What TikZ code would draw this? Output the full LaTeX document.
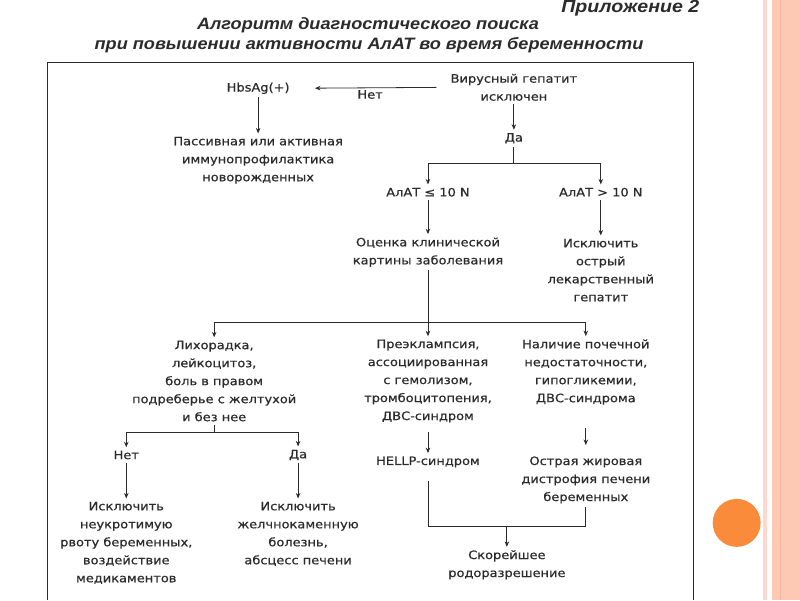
\documentclass[tikz,border=0pt]{standalone}
\usepackage{fontspec}
\setmainfont{DejaVu Sans}[FakeStretch=1.12,FakeBold=0.6]
\newfontfamily\headfont{Liberation Sans}[FakeStretch=1.10]
\newfontfamily\appxfont{Liberation Sans}[FakeStretch=1.12]
\usepackage{tikz}
\usetikzlibrary{arrows.meta,calc,positioning}
\definecolor{ink}{HTML}{2B2B2B}
\definecolor{stripA}{HTML}{FCD9CC}
\definecolor{stripB}{HTML}{FDC8B4}
\definecolor{stripC}{HTML}{F5B69C}
\definecolor{dotorange}{HTML}{F98B3A}

\begin{document}
\begin{tikzpicture}[x=1pt,y=-1pt,>={Stealth[length=5.5pt,width=4.5pt]},
  txt/.style={align=center,font=\fontsize{11.6}{18}\selectfont,text=ink,inner sep=3pt},
  ttl/.style={font=\headfont\fontsize{16.5}{18}\selectfont\bfseries\itshape,text=ink,inner sep=0pt},
  every path/.style={draw=ink,line width=0.8pt}]
\useasboundingbox (0,0) rectangle (800,600);
% slide decoration
\fill[white,draw=none] (0,0) rectangle (800,600);
\fill[stripA,draw=none] (763,0) rectangle (767,600);
\fill[stripB,draw=none] (772,0) rectangle (800,600);
\draw[stripC,line width=1.5pt] (781,0) -- (781,600);
\fill[dotorange,draw=none] (737,523) circle[radius=24pt];
% frame
\draw[line width=1pt] (47,600) -- (47,62) -- (694,62) -- (694,600);
% heading
\node[ttl,anchor=east,font=\appxfont\fontsize{17.5}{18}\selectfont\bfseries\itshape] (appx) at (700,8) {Приложение 2};
\node[ttl] (title1) at (368,25) {Алгоритм диагностического поиска};
\node[ttl] (title2) at (369,45) {при повышении активности АлАТ во время беременности};
% top: virus hepatitis
\node[txt] (virus) at (514,87) {Вирусный гепатит\\исключен};
\node[txt] (hbs) at (258,88) {HbsAg(+)};
\node[txt] (pass) at (258,160) {Пассивная или активная\\иммунопрофилактика\\новорожденных};
\node[txt] (da1) at (514,138) {Да};
\draw[->,shorten <=11pt,shorten >=22pt] (virus.west) -- (hbs.east) node[midway,below=-1pt,txt] (net1) {Нет};
\draw[->] (hbs) -- (pass);
\draw[->] (virus) -- (da1);
% ALT split
\node[txt] (alt1) at (428,192) {АлАТ ≤ 10 N};
\node[txt] (alt2) at (601,192) {АлАТ > 10 N};
\coordinate (j1) at (514,163);
\draw (da1) -- (j1);
\draw[->] (j1) -| (alt1);
\draw[->] (j1) -| (alt2);
\node[txt] (ocen) at (428,252) {Оценка клинической\\картины заболевания};
\node[txt] (iskl) at (601,270) {Исключить\\острый\\лекарственный\\гепатит};
\draw[->] (alt1) -- (ocen);
\draw[->] (alt2) -- (iskl);
% clinical picture
\coordinate (j2) at (428,322);
\node[txt] (lihor) at (214,381) {Лихорадка,\\лейкоцитоз,\\боль в правом\\подреберье с желтухой\\и без нее};
\node[txt] (preecl) at (428,381) {Преэклампсия,\\ассоциированная\\с гемолизом,\\тромбоцитопения,\\ДВС-синдром};
\node[txt] (renal) at (586,372) {Наличие почечной\\недостаточности,\\гипогликемии,\\ДВС-синдрома};
\draw (ocen) -- (j2);
\draw[->] (j2) -| (lihor);
\draw[->] (j2) -- (preecl);
\draw[->] (j2) -| (renal);
% fever branch
\coordinate (j3) at (214,432);
\node[txt] (net2) at (126,455) {Нет};
\node[txt] (da2) at (298,455) {Да};
\node[txt] (excl1) at (126,543) {Исключить\\неукротимую\\рвоту беременных,\\воздействие\\медикаментов};
\node[txt] (excl2) at (298,534) {Исключить\\желчнокаменную\\болезнь,\\абсцесс печени};
\draw (lihor) -- (j3);
\draw[->] (j3) -| (net2);
\draw[->] (j3) -| (da2);
\draw[->] (net2) -- (excl1);
\draw[->] (da2) -- (excl2);
% HELLP and fatty liver
\node[txt] (hellp) at (428,462) {HELLP-синдром};
\node[txt] (fat) at (586,480) {Острая жировая\\дистрофия печени\\беременных};
\draw[->,shorten <=6pt] (preecl) -- (hellp);
\draw[->,shorten <=20pt,shorten >=8pt] (renal) -- (fat);
\coordinate (j4) at (428,527);
\coordinate (j5) at (586,527);
\coordinate (j6) at (507,527);
\node[txt] (deliv) at (507,565) {Скорейшее\\родоразрешение};
\draw[shorten <=10pt] (hellp) -- (j4) -- (j5) -- (fat);
\draw[->] (j6) -- (deliv);
\end{tikzpicture}
\end{document}
